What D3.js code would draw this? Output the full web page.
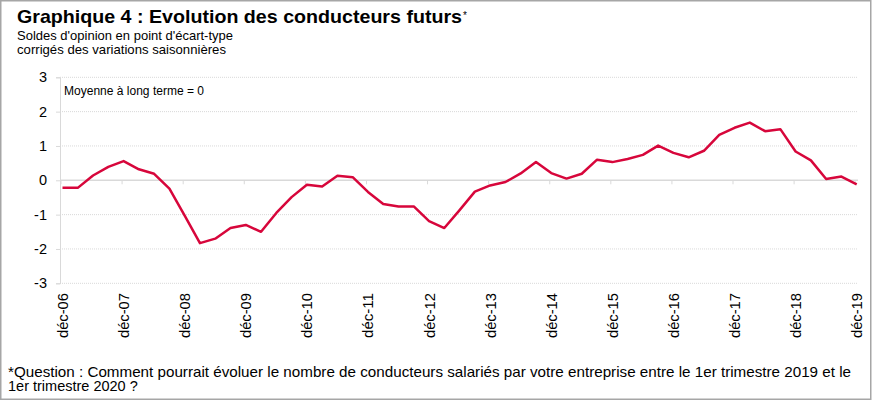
<!DOCTYPE html>
<html>
<head>
<meta charset="utf-8">
<style>
    body {margin:0; background:#fff;}
    text {font-family: "Liberation Sans", Arial, sans-serif; fill:#000;}
</style>
<script src="https://d3js.org/d3.v7.min.js"></script>
</head>
<body>
<script>
    // Quarterly series, déc-06 .. déc-19 (53 quarters)
    var values = [
        -0.22, -0.22, 0.14, 0.39, 0.56, 0.32, 0.19, -0.24, -1.03, -1.83,
        -1.70, -1.39, -1.30, -1.50, -0.95, -0.49, -0.13, -0.18, 0.13, 0.09,
        -0.34, -0.69, -0.76, -0.76, -1.19, -1.39, -0.87, -0.33, -0.15, -0.05,
        0.20, 0.53, 0.21, 0.05, 0.19, 0.60, 0.53, 0.62, 0.74, 1.01,
        0.80, 0.67, 0.86, 1.32, 1.53, 1.68, 1.43, 1.49, 0.84, 0.58,
        0.04, 0.11, -0.12
    ];
    // one label every 4 quarters
    var yearLabels = ["déc-06","déc-07","déc-08","déc-09","déc-10","déc-11","déc-12",
                      "déc-13","déc-14","déc-15","déc-16","déc-17","déc-18","déc-19"];
    var yTicks = [-3, -2, -1, 0, 1, 2, 3];

    var title = "Graphique 4 : Evolution des conducteurs futurs";
    var subtitle = ["Soldes d'opinion en point d'écart-type", "corrigés des variations saisonnières"];
    var subWidths = [216, 209];
    var note = "Moyenne à long terme = 0";
    var footnote = ["*Question : Comment pourrait évoluer le nombre de conducteurs salariés par votre entreprise entre le 1er trimestre 2019 et le",
                    "1er trimestre 2020 ?"];

    var width = 873, height = 402;
    var plotLeft = 60, plotRight = 858;

    var svg = d3.select("body").append("svg")
        .attr("width", width)
        .attr("height", height);

    // frame
    svg.append("rect")
        .attr("x", 0.75).attr("y", 0.75)
        .attr("width", 870).attr("height", 398.5)
        .attr("fill", "#fff")
        .attr("stroke", "#a6a6a6")
        .attr("stroke-width", 1.5);

    var x = d3.scaleLinear().domain([0, values.length - 1]).range([62.5, 856.7]);
    var y = d3.scaleLinear().domain([-3, 3]).range([283.3, 77.3]);

    // gridlines
    svg.append("g")
        .selectAll("line")
        .data(yTicks.filter(d => d != 0))
        .join("line")
        .attr("x1", plotLeft).attr("x2", plotRight)
        .attr("y1", d => y(d)).attr("y2", d => y(d))
        .attr("stroke", "#d9d9d9")
        .attr("stroke-dasharray", "1,1");

    // y axis
    var yAxis = svg.append("g")
        .attr("transform", `translate(${plotLeft},0)`)
        .call(d3.axisLeft(y).tickValues(yTicks).tickSize(4).tickPadding(9).tickFormat(d3.format("d")));
    yAxis.select(".domain").attr("stroke", "#d9d9d9");
    yAxis.selectAll(".tick line").attr("stroke", "#d9d9d9");
    yAxis.selectAll(".tick text")
        .style("font-family", "'Liberation Sans', Arial, sans-serif")
        .style("font-size", "14.5px")
        .attr("fill", "#000")
        .text(d => d < 0 ? "-" + Math.abs(d) : d);

    // zero line with year ticks
    svg.append("line")
        .attr("x1", plotLeft).attr("x2", plotRight)
        .attr("y1", y(0)).attr("y2", y(0))
        .attr("stroke", "#d9d9d9")
        .attr("stroke-width", 1.5);

    svg.append("g")
        .selectAll("line")
        .data(yearLabels)
        .join("line")
        .attr("x1", (d, i) => x(i * 4) - 1.5).attr("x2", (d, i) => x(i * 4) - 1.5)
        .attr("y1", y(0)).attr("y2", y(0) + 4)
        .attr("stroke", "#d9d9d9");

    // x labels, rotated
    svg.append("g")
        .selectAll("text")
        .data(yearLabels)
        .join("text")
        .attr("transform", (d, i) => `translate(${x(i * 4) + 5.5},293)rotate(-90)`)
        .attr("text-anchor", "end")
        .style("font-size", "15px")
        .attr("textLength", 45)
        .attr("lengthAdjust", "spacingAndGlyphs")
        .text(d => d);

    // series
    svg.append("path")
        .datum(values)
        .attr("fill", "none")
        .attr("stroke", "#d7063b")
        .attr("stroke-width", 2.5)
        .attr("stroke-linejoin", "round")
        .attr("d", d3.line().x((d, i) => x(i)).y(d => y(d)));

    // texts
    svg.append("text")
        .attr("x", 17).attr("y", 23)
        .style("font-size", "19px")
        .style("font-weight", "bold")
        .attr("textLength", 445)
        .attr("lengthAdjust", "spacingAndGlyphs")
        .text(title);
    svg.append("text")
        .attr("x", 463).attr("y", 19)
        .style("font-size", "10px")
        .text("*");

    svg.selectAll(".sub")
        .data(subtitle)
        .join("text")
        .attr("class", "sub")
        .attr("x", 17)
        .attr("y", (d, i) => 39.5 + i * 14)
        .style("font-size", "13.5px")
        .attr("textLength", (d, i) => subWidths[i])
        .attr("lengthAdjust", "spacingAndGlyphs")
        .text(d => d);

    svg.append("text")
        .attr("x", 64).attr("y", 95)
        .style("font-size", "12px")
        .attr("textLength", 140)
        .attr("lengthAdjust", "spacingAndGlyphs")
        .text(note);

    svg.selectAll(".foot")
        .data(footnote)
        .join("text")
        .attr("class", "foot")
        .attr("x", 8)
        .attr("y", (d, i) => 376.5 + i * 14.5)
        .style("font-size", "14.5px")
        .each(function(d, i) {
            if (i == 0) d3.select(this).attr("textLength", 843).attr("lengthAdjust", "spacingAndGlyphs");
        })
        .text(d => d);
</script>
</body>
</html>
